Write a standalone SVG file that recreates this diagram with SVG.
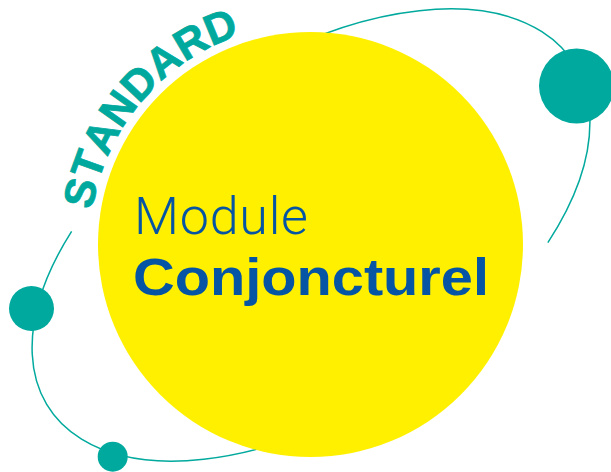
<svg xmlns="http://www.w3.org/2000/svg" width="611" height="472" viewBox="0 0 611 472">
  <style>
    .orbit { fill: none; stroke: #00A99D; stroke-width: 1.5; }
    .planet { fill: #00A99D; }
    .sun { fill: #FFF000; }
    .std { font-family: "Liberation Sans", Arial, sans-serif; font-weight: bold; font-size: 43px; fill: #00A99D; stroke: #00A99D; stroke-width: 0.8; text-anchor: middle; }
    .light { font-family: Roboto, "Liberation Sans", sans-serif; font-weight: 300; font-size: 52px; fill: #0654A4; }
    .bold { font-family: "Liberation Sans", Arial, sans-serif; font-weight: bold; font-size: 52px; fill: #0654A4; }
  </style>
  <rect width="611" height="472" fill="#FFFFFF"/>
  <g id="connectors" transform="translate(311,235) rotate(-33.5)">
    <path class="orbit" d="M -197.6 -135.2 A 314 174 0 0 0 -54.5 171.4"/>
    <path class="orbit" d="M 193.3 137.1 A 314 174 0 0 0 54.5 -171.4"/>
  </g>
  <g id="planet-large">
    <circle class="planet" cx="576.5" cy="86" r="37.5"/>
  </g>
  <g id="planet-left">
    <circle class="planet" cx="31.5" cy="308.5" r="22.5"/>
  </g>
  <g id="planet-bottom">
    <circle class="planet" cx="112.7" cy="456.7" r="15"/>
  </g>
  <g id="sun">
    <circle class="sun" cx="310.5" cy="244.5" r="212.5"/>
    <text class="light" x="134" y="234.3" textLength="174">Module</text>
    <text class="bold" x="133" y="295" textLength="356" lengthAdjust="spacingAndGlyphs">Conjoncturel</text>
  </g>
  <g id="label-standard">
    <text class="std" x="94.9" y="196.1" transform="rotate(-77.35 94.9 196.1)">S</text>
    <text class="std" x="102.5" y="169.7" transform="rotate(-70.22 102.5 169.7)">T</text>
    <text class="std" x="114.0" y="143.4" transform="rotate(-62.79 114.0 143.4)">A</text>
    <text class="std" x="130.0" y="116.9" transform="rotate(-54.74 130.0 116.9)">N</text>
    <text class="std" x="149.7" y="92.9" transform="rotate(-46.69 149.7 92.9)">D</text>
    <text class="std" x="172.5" y="71.9" transform="rotate(-38.64 172.5 71.9)">A</text>
    <text class="std" x="198.1" y="54.2" transform="rotate(-30.59 198.1 54.2)">R</text>
    <text class="std" x="225.8" y="40.4" transform="rotate(-22.54 225.8 40.4)">D</text>
  </g>
</svg>
